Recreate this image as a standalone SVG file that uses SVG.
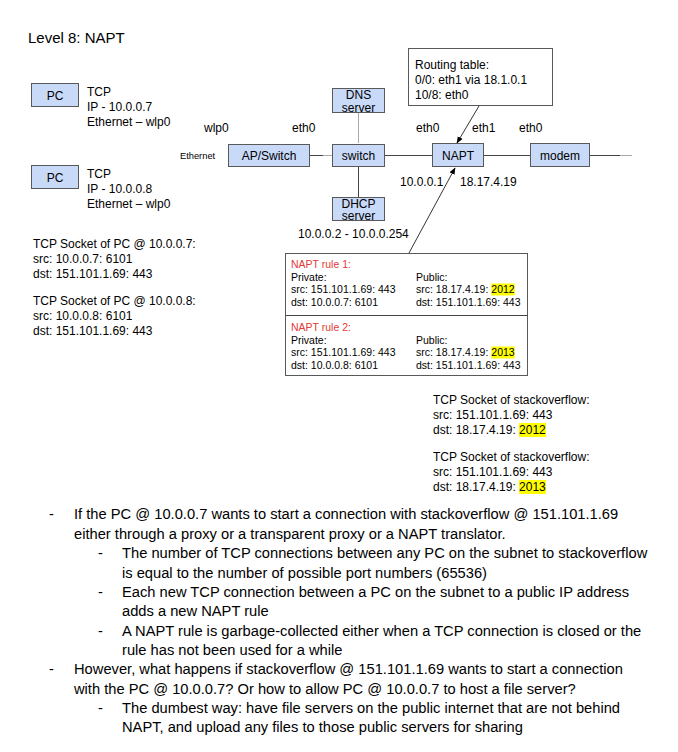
<svg xmlns="http://www.w3.org/2000/svg" width="678" height="752" viewBox="0 0 678 752">
<defs>
<style>
text{font-family:"Liberation Sans",Arial,sans-serif;fill:#000}
.t12{font-size:12px}
.t11{font-size:10.5px}
.big{font-size:14.7px}
.title{font-size:15px}
.box{fill:#c9daf8;stroke:#595959;stroke-width:1}
.frame{fill:#fff;stroke:#595959;stroke-width:1}
.ln{stroke:#444;stroke-width:1;fill:none}
.lg{stroke:#aaa;stroke-width:1;fill:none}
.red{fill:#e53935}
.hl{fill:#ffff00}
.c{text-anchor:middle}
</style>
<marker id="ah" viewBox="0 0 10 10" refX="9" refY="5" markerWidth="7" markerHeight="7" orient="auto" markerUnits="userSpaceOnUse">
<path d="M0,1 L10,5 L0,9 z" fill="#000"/>
</marker>
</defs>
<rect width="678" height="752" fill="#fff"/>
<text class="title" x="28" y="43">Level 8: NAPT</text>

<g id="connectors">
<line class="ln" x1="310" y1="155.5" x2="323" y2="155.5"/>
<line class="lg" x1="323" y1="155.5" x2="332" y2="155.5"/>
<line class="ln" x1="385" y1="155.5" x2="432" y2="155.5"/>
<line class="ln" x1="483" y1="155.5" x2="530" y2="155.5"/>
<line class="ln" x1="590" y1="155.5" x2="620" y2="155.5"/>
<line class="lg" x1="620" y1="155.5" x2="632" y2="155.5"/>
<line class="lg" x1="358.5" y1="113" x2="358.5" y2="143"/>
<line class="ln" x1="358.5" y1="167" x2="358.5" y2="197"/>
<line stroke="#000" stroke-width="0.8" x1="479" y1="106" x2="457" y2="143" marker-end="url(#ah)"/>
<line stroke="#000" stroke-width="0.8" x1="409" y1="253" x2="455" y2="168" marker-end="url(#ah)"/>
</g>

<g id="pc1">
<rect class="box" x="31.5" y="83.5" width="47" height="23"/>
<text class="t12 c" x="55" y="99.5">PC</text>
<text class="t12" x="87" y="96">TCP</text>
<text class="t12" x="87" y="111">IP - 10.0.0.7</text>
<text class="t12" x="87" y="126">Ethernet – wlp0</text>
</g>
<g id="pc2">
<rect class="box" x="31.5" y="165.5" width="47" height="23"/>
<text class="t12 c" x="55" y="181.5">PC</text>
<text class="t12" x="87" y="178">TCP</text>
<text class="t12" x="87" y="193">IP - 10.0.0.8</text>
<text class="t12" x="87" y="208">Ethernet – wlp0</text>
</g>

<g id="labels">
<text class="t12" x="204" y="132">wlp0</text>
<text class="t12" x="292" y="132">eth0</text>
<text style="font-size:9.3px" x="180" y="158.5">Ethernet</text>
<text class="t12" x="416" y="132">eth0</text>
<text class="t12" x="472" y="132">eth1</text>
<text class="t12" x="519" y="132">eth0</text>
<text class="t12" x="400" y="186">10.0.0.1</text>
<text class="t12" x="460" y="186">18.17.4.19</text>
<text class="t12" x="298" y="238">10.0.0.2 - 10.0.0.254</text>
</g>

<g id="apswitch">
<rect class="box" x="228.5" y="144.5" width="81" height="22"/>
<text class="t12 c" x="269" y="160">AP/Switch</text>
</g>
<g id="switch">
<rect class="box" x="332.5" y="144.5" width="52" height="22"/>
<text class="t12 c" x="358.5" y="160">switch</text>
</g>
<g id="dns">
<rect class="box" x="332.5" y="88.5" width="52" height="24"/>
<text class="t12 c" x="358.5" y="98.5">DNS</text>
<text class="t12 c" x="358.5" y="111.5">server</text>
</g>
<g id="dhcp">
<rect class="box" x="332.5" y="197.5" width="52" height="23"/>
<text class="t12 c" x="358.5" y="207.5">DHCP</text>
<text class="t12 c" x="358.5" y="220">server</text>
</g>
<g id="napt">
<rect class="box" x="432.5" y="143.5" width="51" height="23"/>
<text class="t12 c" x="458" y="159.5">NAPT</text>
</g>
<g id="modem">
<rect class="box" x="530.5" y="143.5" width="59" height="23"/>
<text class="t12 c" x="560" y="159.5">modem</text>
</g>

<g id="routing">
<rect class="frame" x="408.5" y="48.5" width="144" height="57"/>
<text class="t12" x="415" y="69">Routing table:</text>
<text class="t12" x="415" y="84">0/0: eth1 via 18.1.0.1</text>
<text class="t12" x="415" y="99">10/8: eth0</text>
</g>

<g id="sockets-pc">
<text class="t12" x="33" y="248">TCP Socket of PC @ 10.0.0.7:</text>
<text class="t12" x="33" y="263">src: 10.0.0.7: 6101</text>
<text class="t12" x="33" y="278">dst: 151.101.1.69: 443</text>
<text class="t12" x="33" y="305">TCP Socket of PC @ 10.0.0.8:</text>
<text class="t12" x="33" y="320">src: 10.0.0.8: 6101</text>
<text class="t12" x="33" y="335">dst: 151.101.1.69: 443</text>
</g>

<g id="napt-rules">
<rect class="frame" x="285.5" y="253.5" width="242" height="122"/>
<line class="ln" x1="285.5" y1="315.5" x2="527.5" y2="315.5"/>
<rect class="hl" x="491.3" y="283.5" width="23.4" height="12"/>
<rect class="hl" x="491.3" y="346.5" width="23.4" height="12"/>
<text class="t11 red" x="291" y="268">NAPT rule 1:</text>
<text class="t11" x="291" y="280.5">Private:</text>
<text class="t11" x="291" y="293">src: 151.101.1.69: 443</text>
<text class="t11" x="291" y="305.5">dst: 10.0.0.7: 6101</text>
<text class="t11" x="416" y="280.5">Public:</text>
<text class="t11" x="416" y="293">src: 18.17.4.19: 2012</text>
<text class="t11" x="416" y="305.5">dst: 151.101.1.69: 443</text>
<text class="t11 red" x="291" y="331">NAPT rule 2:</text>
<text class="t11" x="291" y="343.5">Private:</text>
<text class="t11" x="291" y="356">src: 151.101.1.69: 443</text>
<text class="t11" x="291" y="368.5">dst: 10.0.0.8: 6101</text>
<text class="t11" x="416" y="343.5">Public:</text>
<text class="t11" x="416" y="356">src: 18.17.4.19: 2013</text>
<text class="t11" x="416" y="368.5">dst: 151.101.1.69: 443</text>
</g>

<g id="sockets-so">
<rect class="hl" x="519" y="423" width="27" height="14"/>
<rect class="hl" x="519" y="480" width="27" height="14"/>
<text class="t12" x="433" y="404">TCP Socket of stackoverflow:</text>
<text class="t12" x="433" y="419">src: 151.101.1.69: 443</text>
<text class="t12" x="433" y="434">dst: 18.17.4.19: 2012</text>
<text class="t12" x="433" y="461">TCP Socket of stackoverflow:</text>
<text class="t12" x="433" y="476">src: 151.101.1.69: 443</text>
<text class="t12" x="433" y="491">dst: 18.17.4.19: 2013</text>
</g>

<g id="notes">
<text class="big" x="49" y="519">-</text>
<text class="big" x="74" y="519">If the PC @ 10.0.0.7 wants to start a connection with stackoverflow @ 151.101.1.69</text>
<text class="big" x="74" y="538.5">either through a proxy or a transparent proxy or a NAPT translator.</text>
<text class="big" x="98" y="558">-</text>
<text class="big" x="122" y="558">The number of TCP connections between any PC on the subnet to stackoverflow</text>
<text class="big" x="122" y="577.5">is equal to the number of possible port numbers (65536)</text>
<text class="big" x="98" y="597">-</text>
<text class="big" x="122" y="597">Each new TCP connection between a PC on the subnet to a public IP address</text>
<text class="big" x="122" y="616">adds a new NAPT rule</text>
<text class="big" x="98" y="635.5">-</text>
<text class="big" x="122" y="635.5">A NAPT rule is garbage-collected either when a TCP connection is closed or the</text>
<text class="big" x="122" y="655">rule has not been used for a while</text>
<text class="big" x="49" y="674">-</text>
<text class="big" x="74" y="674">However, what happens if stackoverflow @ 151.101.1.69 wants to start a connection</text>
<text class="big" x="74" y="693.5">with the PC @ 10.0.0.7? Or how to allow PC @ 10.0.0.7 to host a file server?</text>
<text class="big" x="98" y="713">-</text>
<text class="big" x="122" y="713">The dumbest way: have file servers on the public internet that are not behind</text>
<text class="big" x="122" y="732">NAPT, and upload any files to those public servers for sharing</text>
</g>
</svg>
